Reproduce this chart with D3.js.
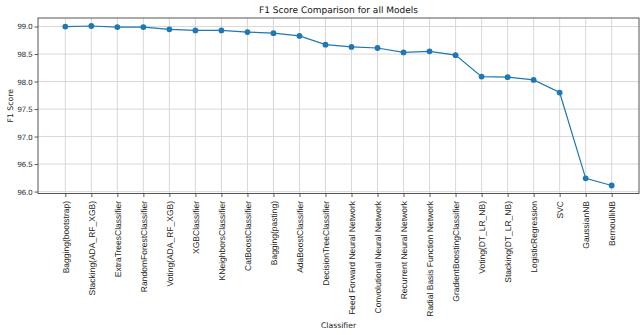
<!DOCTYPE html>
<html>
<head>
<meta charset="utf-8">
<script src="https://cdn.jsdelivr.net/npm/d3@7/dist/d3.min.js"></script>
<style>
  html, body { margin: 0; padding: 0; background: #fff; }
  svg { display: block; font-family: "DejaVu Sans", sans-serif; text-rendering: geometricPrecision; }
</style>
</head>
<body>
<svg id="chart" width="644" height="335"></svg>
<script>
// F1 scores per classifier, in ranked order
const classifiers = [
  "Bagging(bootstrap)", "Stacking(ADA_RF_XGB)", "ExtraTreesClassifier",
  "RandomForestClassifier", "Voting(ADA_RF_XGB)", "XGBClassifier",
  "KNeighborsClassifier", "CatBoostClassifier", "Bagging(pasting)",
  "AdaBoostClassifier", "DecisionTreeClassifier", "Feed Forward Neural Network",
  "Convolutional Neural Network", "Recurrent Neural Network",
  "Radial Basis Function Network", "GradientBoostingClassifier",
  "Voting(DT_LR_NB)", "Stacking(DT_LR_NB)", "LogisticRegression", "SVC",
  "GaussianNB", "BernoulliNB"
];
const f1Scores = [
  99.00, 99.01, 98.99, 98.99, 98.95, 98.93, 98.93, 98.90, 98.88, 98.83,
  98.67, 98.63, 98.61, 98.53, 98.55, 98.48, 98.09, 98.08, 98.03, 97.80,
  96.24, 96.11
];
const yTicks = [96.0, 96.5, 97.0, 97.5, 98.0, 98.5, 99.0];

const svg = d3.select("#chart");
const plot = { left: 38, right: 639, top: 18, bottom: 193.5 };
const smallFont = 7.7;
const xTickFont = 8.5;

// matplotlib-style 5% padding around the data
const n = classifiers.length;
const x = d3.scaleLinear()
  .domain([-0.05 * (n - 1), (n - 1) * 1.05])
  .range([plot.left, plot.right]);
const yMin = d3.min(f1Scores), yMax = d3.max(f1Scores);
const pad = (yMax - yMin) * 0.05;
const y = d3.scaleLinear()
  .domain([yMin - pad, yMax + pad])
  .range([plot.bottom, plot.top]);

// grid
const grid = svg.append("g").attr("stroke", "#d4d4d4").attr("stroke-width", 0.9);
grid.selectAll("line.v").data(classifiers).join("line")
  .attr("x1", (d, i) => x(i)).attr("x2", (d, i) => x(i))
  .attr("y1", plot.top).attr("y2", plot.bottom);
grid.selectAll("line.h").data(yTicks).join("line")
  .attr("x1", plot.left).attr("x2", plot.right)
  .attr("y1", d => y(d)).attr("y2", d => y(d));

// axes
const xAxis = d3.axisBottom(x)
  .tickValues(d3.range(n))
  .tickFormat(i => classifiers[i])
  .tickSize(3.5).tickSizeOuter(0);
const gx = svg.append("g")
  .attr("transform", `translate(0,${plot.bottom})`)
  .call(xAxis);
gx.select(".domain").remove();
gx.selectAll(".tick line").attr("stroke", "#333").attr("stroke-width", 0.8);
gx.selectAll(".tick text")
  .attr("fill", "#222")
  .attr("font-size", xTickFont)
  .attr("transform", "rotate(-90)")
  .attr("x", -7.5)
  .attr("y", 0)
  .attr("dy", "0.33em")
  .attr("text-anchor", "end");

const yAxis = d3.axisLeft(y)
  .tickValues(yTicks)
  .tickFormat(d3.format(".1f"))
  .tickSize(3.5).tickSizeOuter(0);
const gy = svg.append("g")
  .attr("transform", `translate(${plot.left},0)`)
  .call(yAxis);
gy.select(".domain").remove();
gy.selectAll(".tick line").attr("stroke", "#333").attr("stroke-width", 0.8);
gy.selectAll(".tick text")
  .attr("fill", "#222")
  .attr("font-size", smallFont)
  .attr("x", -5.5);

// frame
svg.append("rect")
  .attr("x", plot.left).attr("y", plot.top)
  .attr("width", plot.right - plot.left).attr("height", plot.bottom - plot.top)
  .attr("fill", "none").attr("stroke", "#444").attr("stroke-width", 0.9);

// line + markers
const line = d3.line().x((d, i) => x(i)).y(d => y(d));
svg.append("path")
  .datum(f1Scores)
  .attr("d", line)
  .attr("fill", "none")
  .attr("stroke", "#1f77b4")
  .attr("stroke-width", 1.2);
svg.append("g").selectAll("circle").data(f1Scores).join("circle")
  .attr("cx", (d, i) => x(i))
  .attr("cy", d => y(d))
  .attr("r", 2.9)
  .attr("fill", "#1f77b4");

// labels
svg.append("text")
  .attr("x", (plot.left + plot.right) / 2).attr("y", 13)
  .attr("text-anchor", "middle")
  .attr("font-size", 9)
  .attr("fill", "#111")
  .text("F1 Score Comparison for all Models");
svg.append("text")
  .attr("transform", `translate(12.5,${(plot.top + plot.bottom) / 2}) rotate(-90)`)
  .attr("text-anchor", "middle")
  .attr("font-size", smallFont)
  .attr("fill", "#222")
  .text("F1 Score");
svg.append("text")
  .attr("x", (plot.left + plot.right) / 2).attr("y", 328)
  .attr("text-anchor", "middle")
  .attr("font-size", smallFont)
  .attr("fill", "#222")
  .text("Classifier");
</script>
</body>
</html>
